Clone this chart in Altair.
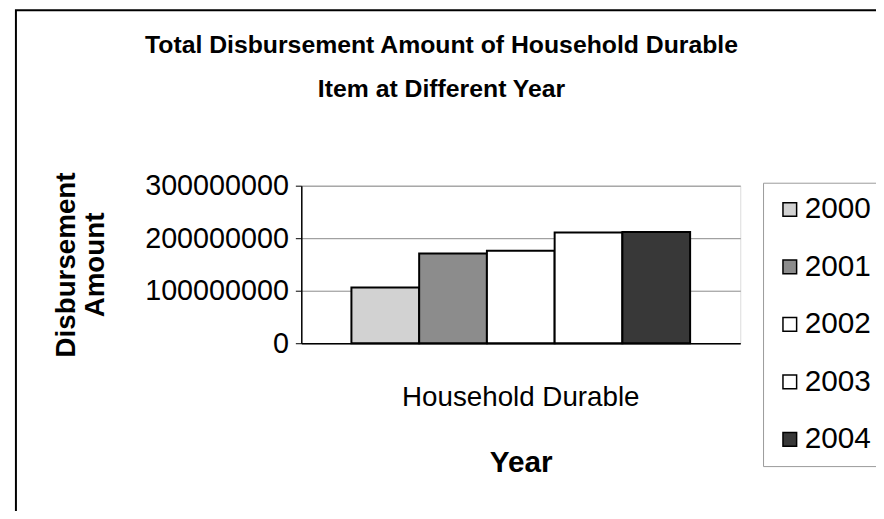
import altair as alt
import pandas as pd

category = ["Household Durable"] * 5
years = ["2000", "2001", "2002", "2003", "2004"]
amounts = [106000000, 171000000, 176000000, 211000000, 212000000]
colors = ["#d2d2d2", "#8c8c8c", "#ffffff", "#ffffff", "#383838"]

df = pd.DataFrame({"Category": category, "Year": years, "Amount": amounts})

FONT = "Liberation Sans"

bars = alt.Chart(df).mark_bar(stroke="black", strokeWidth=2).encode(
    x=alt.X("Category:N",
            scale=alt.Scale(paddingInner=0, paddingOuter=0.148),
            axis=alt.Axis(title="Year", labelAngle=0, labelFontSize=28, labelLimit=0,
                          labelFont=FONT, labelColor="black", labelPadding=41,
                          ticks=False, domainColor="black", domainWidth=1.5,
                          titleFontSize=30, titleFont=FONT, titleFontWeight="bold",
                          titleColor="black", titlePadding=36)),
    xOffset=alt.XOffset("Year:N", sort=years, scale=alt.Scale(paddingInner=0, paddingOuter=0)),
    y=alt.Y("Amount:Q",
            scale=alt.Scale(domain=[0, 300000000], nice=False),
            axis=alt.Axis(values=[0, 100000000, 200000000, 300000000], format="d",
                          title=["Disbursement", "Amount"], labelFontSize=29,
                          labelFont=FONT, labelColor="black", labelPadding=7,
                          tickSize=6, tickColor="black", domainColor="black",
                          domainWidth=1.5, gridColor="#8a8a8a", gridWidth=1,
                          titleFontSize=28, titleFont=FONT, titleFontWeight="bold",
                          titleColor="black", titlePadding=35, titleLineHeight=30)),
    fill=alt.Fill("Year:N", sort=years,
                  scale=alt.Scale(domain=years, range=colors),
                  legend=alt.Legend(title=None, orient="none", legendX=466, legendY=-3,
                                    symbolType="square", symbolSize=190,
                                    symbolStrokeColor="black", symbolStrokeWidth=1.5,
                                    labelFontSize=30, labelFont=FONT, labelColor="black",
                                    labelOffset=0, rowPadding=28, padding=12,
                                    strokeColor="#9a9a9a", fillColor="white")),
)

frame_df = pd.DataFrame({"f": [1]})
frame = alt.Chart(frame_df).mark_rect(fill=None, stroke="black", strokeWidth=2).encode(
    x=alt.value(-288), x2=alt.value(600), y=alt.value(-177), y2=alt.value(600)
)

chart = alt.layer(frame, bars).properties(
    width=443, height=159,
    autosize=alt.AutoSizeParams(type="none"),
    padding={"left": 296, "top": 177, "right": 137, "bottom": 167},
    title=alt.TitleParams(
        ["Total Disbursement Amount of Household Durable", "Item at Different Year"],
        fontSize=25, font=FONT, fontWeight="bold", color="black",
        anchor="middle", dx=-80, dy=94, offset=0, lineHeight=45),
).configure_view(fill="#dedede", stroke="#8a8a8a", strokeWidth=1).configure(background="white")

chart.save("out.html", embed_options={"renderer": "svg", "actions": False})
